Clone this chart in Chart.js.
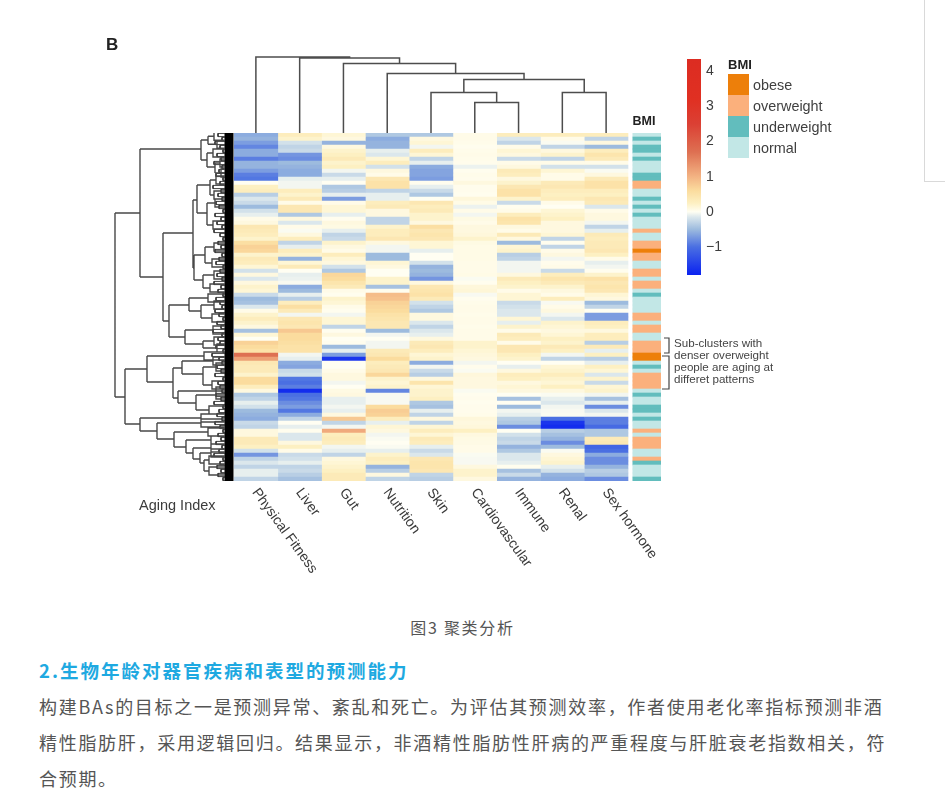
<!DOCTYPE html>
<html lang="zh">
<head>
<meta charset="utf-8">
<title>图3 聚类分析</title>
<script src="https://cdn.jsdelivr.net/npm/chart.js@4/dist/chart.umd.min.js"></script>
<style>
html,body{margin:0;padding:0;background:#fff;width:945px;height:806px;overflow:hidden}
canvas{position:absolute;filter:blur(.55px)}
.t{position:absolute;white-space:nowrap}
#cap{left:0;width:925px;top:615px;text-align:center;font:16px/24px "Noto Sans CJK SC",sans-serif;letter-spacing:1.7px;color:#555}
#head{left:39px;top:656px;font:bold 18.5px/28px "Noto Sans CJK SC",sans-serif;letter-spacing:2px;color:#1ea9e1}
.p{left:39px;font:18px/30px "Noto Sans CJK SC",sans-serif;letter-spacing:1.7px;color:#555}
#side{position:absolute;left:924px;top:-1px;width:30px;height:181px;border:1px solid #d9d9d9}
</style>
</head>
<body>
<canvas id="heat" width="945" height="600" style="left:0;top:0"></canvas>
<canvas id="topTree" width="394" height="83" style="left:234px;top:50px"></canvas>
<canvas id="leftTree" width="134" height="348" style="left:100px;top:133px"></canvas>
<canvas id="scale" width="50" height="216" style="left:687px;top:59px"></canvas>
<div id="side"></div>
<div class="t" id="cap">图3 聚类分析</div>
<div class="t" id="head">2.生物年龄对器官疾病和表型的预测能力</div>
<div class="t p" style="top:691px">构建BAs的目标之一是预测异常、紊乱和死亡。为评估其预测效率，作者使用老化率指标预测非酒</div>
<div class="t p" style="top:727px">精性脂肪肝，采用逻辑回归。结果显示，非酒精性脂肪性肝病的严重程度与肝脏衰老指数相关，符</div>
<div class="t p" style="top:763px">合预期。</div>
<script>
const columnLabels = ['Physical Fitness','Liver','Gut','Nutrition','Skin','Cardiovascular','Immune','Renal','Sex hormone'];
const physicalFitness = [-.6,-.55,-.7,-.85,-.6,-.6,-.9,-.55,-.55,-.7, -.9,-.95,0,.25,.3,-.35,-.15,-.25,-.5,-.2, -.1,.05,.1,.4,.35,.3,.2,.55,.7,.65, .2,.35,.3,.15,-.2,.1,-.15,.1,.2,.15, -.25,-.5,-.45,-.15,.05,.2,.3,.2,.1,-.45, .15,0,.7,.6,.5,1.7,1.2,.4,.35,.35, .2,.6,.6,.3,.1,-.4,-.3,-.1,-.2,-.5, -.55,-.6,-.25,-.3,.1,.1,.35,.35,.25,-.2, -.75,-.3,-.15,-.3,-.1,-.1,-.3];
const liver = [.3,.2,-.2,-.3,-.25,-.75,-.8,-.5,-.55,-.6, -.6,-.1,-.05,-.05,.3,.2,.35,.05,.4,.4, -.4,.1,-.15,.05,-.02,.1,.3,-.3,-.1,.3, .2,-.55,.15,.35,0,-.1,-.08,-.03,-.6,-.5, -.1,-.35,.3,.55,.35,-.05,.4,.45,.4,.8, .6,.6,.55,.5,.5,-.05,-.1,-.6,-.65,-.25, -.2,-.95,-1,-.9,-1.7,-1,-.95,-.8,-.7,-.95, -.6,-.3,0,-.1,.02,-.15,-.15,.1,.25,.05, -.25,-.2,-.1,-.3,-.25,-.35,-.45];
const gut = [.15,.1,-.55,.1,.2,.25,.35,.2,.25,-.05, -.25,-.1,0,-.4,-.35,-.1,-.7,.05,.15,.15, -.1,.02,.1,.08,-.1,-.3,-.25,.2,.1,.05, .3,.15,.1,-.2,-.4,.65,.6,.45,.35,.05, .02,.2,.15,.05,.02,-.05,.15,.15,-.3,.02, .1,0,.02,-.5,-.1,-.7,-1.6,0,0,.05, .1,.1,-.05,0,.08,.1,-.1,-.1,-.05,-.1, .1,.8,-.3,-.05,1.1,.3,.35,.3,-.05,-.1, -.3,.1,.15,.2,.25,.35,.35];
const nutrition = [-.4,-.6,-.55,-.55,-.1,-.15,.15,.3,-.2,.1, .05,.4,.5,.5,-.3,-.1,-.1,.3,.35,.1, .1,-.3,-.3,.2,.3,.3,.4,.1,-.05,-.05, -.5,-.5,.15,.1,0,0,.2,.2,-.45,.02, .9,.85,.7,.65,.6,.5,.45,.4,.4,-.5, -.05,0,-.05,-.05,.35,.4,.6,.3,.35,.4, .65,.2,.15,.2,-.85,-.03,-.03,-.03,.6,.75, .7,.3,-.1,.15,.1,-.05,-.02,0,-.02,-.1, .2,.3,.25,-.55,-.35,.1,-.3];
const skin = [-.4,.1,.15,-.05,.3,.15,-.3,-.1,-.6,-.65, -.65,-.7,.02,-.1,-.25,-.4,0,.4,.3,.35, .2,.2,.1,.55,.4,.45,.4,.15,.15,-.1, 0,0,-.2,-.55,-.5,-.55,-.75,.1,.4,.45, .5,.35,-.2,-.3,-.4,.1,.1,-.15,-.3,-.15, -.1,.1,.35,.4,.3,.15,.2,-.6,-.05,-.25, -.35,.1,.45,.15,.2,.2,.25,-.4,-.45,-.1, -.3,.1,-.3,.15,.3,.15,.35,.3,-.1,-.25, -.15,.4,.45,.45,.4,-.3,-.35];
const cardiovascular = [.05,.05,.04,.02,.04,.05,.04,.03,-.08,.02, .04,.03,.1,.03,.03,.02,.12,.06,-.08,.05, -.05,.08,.05,.1,.1,.12,.2,.08,.06,.06, .06,.06,.05,.05,.05,.06,-.02,.02,.12,.14, -.03,.02,.04,.05,.05,.04,.05,.05,.04,.05, .05,.05,.2,.2,.15,.12,.1,-.05,.03,-.02, .12,.1,.1,.1,-.02,.02,.03,.02,.03,.03, .04,.12,.1,.12,.25,.1,.08,.07,.05,.05, -.02,-.03,-.03,.1,.2,.2,.1];
const immune = [.3,-.15,-.3,.05,.15,.1,-.25,.05,.1,.35, .3,.1,.2,.4,.5,.5,.2,-.25,.02,.05, .3,.5,.45,.1,.05,.35,.1,-.5,.15,.2, -.35,-.3,-.05,-.05,-.05,.1,.35,.25,.2,.05, .15,.15,-.25,-.2,-.15,-.15,.15,-.1,.2,.05, .35,.3,.05,.4,.4,.25,.2,0,-.1,.1, .3,.25,.1,.15,.1,0,-.45,0,-.5,-.05, -.1,-.35,-.4,-.8,0,-.2,-.3,-.25,-.55,-.4, -.15,-.15,-.1,.02,-.45,-.25,-.55];
const renal = [.3,.05,-.02,-.3,.1,.2,-.3,.05,-.2,.15, .05,.05,.35,.4,.3,.25,.3,.05,0,.15, .2,.25,.1,.1,.1,.15,-.3,.02,-.3,.05, .1,-.05,.03,.05,-.25,.3,.45,.35,.2,.1, .05,.3,-.03,.05,.1,-.05,-.15,.2,.15,.1, .15,.25,.2,.35,.25,-.05,-.3,0,.15,.2, .3,.2,.15,.25,.1,-.02,-.1,-.15,-.05,-.03, -.02,-1,-1.6,-1.7,-.35,-.45,-.55,-.8,-.5,-.02, .1,.15,.2,-.1,-.2,-.55,-.6];
const sexHormone = [.3,-.3,.1,-.5,.3,.45,.35,.05,-.2,-.02, .1,.35,.5,.5,.3,.25,.4,.35,-.15,.05, .1,.1,-.05,-.3,-.1,.35,.3,.35,.35,.4, .25,.05,-.1,-.05,.02,.2,.5,.4,.45,.4, .15,.1,-.5,-.3,0,-.7,-.7,.3,.25,.1, .3,.3,-.35,.35,-.1,.25,-.35,-.1,.25,.15, -.15,.2,-.25,.15,.2,-.05,-.45,-.1,-.8,-.15, -.05,-.9,-.9,-1.05,-.4,-.4,.35,.4,-1.1,-1, -.6,-.8,-.8,-.55,-.35,-.4,-.8];
const bmiGroups = 'n,u,n,u,u,n,u,n,n,n,u,u,o,o,n,n,u,n,u,n,u,n,n,n,o,n,n,o,o,x,o,o,n,n,o,o,n,o,o,n,u,n,n,n,n,o,o,n,o,o,n,n,o,o,o,x,x,n,u,n,o,o,o,o,n,u,n,n,u,u,n,u,n,n,o,n,o,o,o,n,n,o,u,n,n,n,u'.split(',');
const bmiColors = {x:'#ed7f0a', o:'#fbb07c', u:'#62bdbd', n:'#c2e7e6'};
const bmiLabels = [['x','obese'],['o','overweight'],['u','underweight'],['n','normal']];
const colorStops = [[-1.8,'#0a22f0'],[-1,'#4a6fe2'],[-.5,'#9dbbde'],[-.15,'#dbe7ec'],[0,'#fffef2'],[.25,'#fdf0c2'],[.6,'#fbdc9e'],[1,'#f3b383'],[1.7,'#de7052'],[2.5,'#db4034'],[3.2,'#e03022'],[4.35,'#dc2c22']];
const scaleTicks = [4,3,2,1,0,-1];
const noteLines = ['Sub-clusters with','denser overweight','people are aging at','differet patterns'];
// dendrograms: [height, left, right]; a number is a leaf (column index)
const columnTree = [76,0,[75,1,[69.5,2,[59.5,3,[53.5,[40.5,4,[30.5,5,6]],[40.5,7,8]]]]]];
// row dendrogram: [height, rowPosition, ...children]
const rowTree = [119,43,
  [94,20,
    [33,4,[26,1.75,[20,.8],[17,2.8]],[27,6.75,[21,5],[19,8.5,[14,7.5],[13,10]]]],
    [71,36,
      [41,25,
        [37,16.75,[24,13,[18,11.75],[20,15.5]],[27,20,[19,17.5],[21,23]]],
        [40,33.75,[29,30.5,[20,28.5],[22,32.5]],[31,36.75,[20,35.5],[24,38.75]]]],
      [65,47,
        [45,43,[26,41.25],[33,44.5,[20,43],[22,46.25]]],
        [49,51,[21,49.25],[31,52.75,[20,52],[17,53.75]]]]]],
  [109,66,
    [87,59,[30,55.75],[61,62.25,
      [52,58.75,[21,57],[31,60.25,[18,58.5],[22,63]]],
      [56,66.25,[18,64.5],[38,67.5,[18,65.5],[25,69.25]]]]],
    [94,72.75,[33,71.25],[77,74.5,[33,72.5],[60,76.5,[26,74.75],[48,78.5,[23,76.75],[41,80,[23,78.75],[34,81.5,[23,80],[30,82.5,[25,81.75],[25,84.5]]]]]]]]]];
const rowTwigs = [16,12,19,14,11,17,13,20,12,15,18,11,14,21,13,16,12,18,15,11,19,13,17,12,20,14,11,16,13,19,12,15,18,11,14,17,12,20,13,16,11,18,14,12,19,15,11,17,13,21,12,16,14,18,11,22,15,12,17,13,19,11,16,14,12,18,13,20,11,15,17,12,19,14,11,16,13,18,12,15,20,11,14,17,13,16,11];
const bandDepth = 9;

const hex = c => [1,3,5].map(i => parseInt(c.substr(i,2),16));
function colorOf(v){
  for(let i=1;i<colorStops.length;i++){
    if(v<=colorStops[i][0]){
      const [a,ca]=colorStops[i-1],[b,cb]=colorStops[i];
      const t=Math.max(0,(v-a)/(b-a)),A=hex(ca),B=hex(cb);
      return `rgb(${A.map((x,k)=>Math.round(x+(B[k]-x)*t)).join(',')})`;
    }
  }
  return colorStops[colorStops.length-1][1];
}
Chart.defaults.animation=false;
Chart.defaults.responsive=false;
Chart.defaults.font.family='"Liberation Sans",Arial,sans-serif';
Chart.defaults.plugins.legend.display=false;
Chart.defaults.plugins.tooltip.enabled=false;

const columns=[physicalFitness,liver,gut,nutrition,skin,cardiovascular,immune,renal,sexHormone];
const rowIds=physicalFitness.map((_,i)=>i);
const bmiStart=9.11, xEnd=9.754;
const datasets=columns.map((vals,j)=>({label:columnLabels[j],data:vals.map(()=>[j,j+1]),backgroundColor:vals.map(colorOf),values:vals}));
datasets.push({label:'BMI',data:bmiGroups.map(()=>[bmiStart,xEnd]),backgroundColor:bmiGroups.map(g=>bmiColors[g])});

const annotate={id:'annotate',afterDraw(chart){
  const {ctx,scales:{x,y}}=chart;
  ctx.save();
  // column labels
  ctx.fillStyle='#3a3a3a';ctx.font='14px "Liberation Sans"';ctx.textAlign='left';ctx.textBaseline='middle';
  columnLabels.forEach((l,j)=>{
    ctx.save();ctx.translate(x.getPixelForValue(j+.5)-1,y.bottom+9);ctx.rotate(54*Math.PI/180);ctx.fillText(l,0,0);ctx.restore();
  });
  ctx.font='14.5px "Liberation Sans"';ctx.fillStyle='#3c3c3c';
  ctx.fillText('Aging Index',139,506);
  ctx.font='bold 17px "Liberation Sans"';ctx.fillStyle='#222';ctx.fillText('B',106,45);
  ctx.font='bold 12.5px "Liberation Sans"';ctx.fillText('BMI',632.5,122);
  // BMI key
  ctx.font='bold 13px "Liberation Sans"';ctx.fillStyle='#222';ctx.fillText('BMI',728,65);
  ctx.font='14.4px "Liberation Sans"';
  bmiLabels.forEach(([k,l],i)=>{
    ctx.fillStyle=bmiColors[k];ctx.fillRect(728,74+i*21,21,21);
    ctx.fillStyle='#3f3f3f';ctx.fillText(l,753,86+i*21);
  });
  // cluster brackets & note
  ctx.strokeStyle='#444';ctx.lineWidth=1.2;
  const b=(x0,y0,y1)=>{ctx.beginPath();ctx.moveTo(x0,y0);ctx.lineTo(669,y0);ctx.lineTo(669,y1);ctx.lineTo(x0,y1);ctx.stroke();};
  b(664,338,353);b(662,356,389);
  ctx.font='11.6px "Liberation Sans"';ctx.fillStyle='#444';
  noteLines.forEach((l,i)=>ctx.fillText(l,674,344+i*11.8));
  ctx.restore();
}};

new Chart(document.getElementById('heat'),{
  type:'bar',
  data:{labels:rowIds,datasets},
  plugins:[annotate],
  options:{
    indexAxis:'y',
    layout:{padding:{left:234,top:133,right:284,bottom:119}},
    datasets:{bar:{grouped:false,barPercentage:1,categoryPercentage:1,borderWidth:0}},
    scales:{
      x:{type:'linear',min:0,max:xEnd,display:false},
      y:{type:'category',display:false}
    }
  }
});

function colSegments(n,out){
  if(typeof n==='number')return {x:n+.5,h:0};
  const a=colSegments(n[1],out),b=colSegments(n[2],out),h=n[0];
  out.push({x:a.x,y:a.h},{x:a.x,y:h},{x:b.x,y:h},{x:b.x,y:b.h},{x:null,y:null});
  return {x:(a.x+b.x)/2,h};
}
const colPts=[];colSegments(columnTree,colPts);
new Chart(document.getElementById('topTree'),{
  type:'scatter',
  data:{datasets:[{data:colPts,showLine:true,pointRadius:0,borderColor:'#4d4d4d',borderWidth:1.5,clip:false,spanGaps:false}]},
  options:{scales:{x:{type:'linear',min:0,max:9,display:false},y:{type:'linear',min:0,max:83,display:false}}}
});

function rowSegments(n,out,parentD){
  const [d,r,...kids]=n;
  if(parentD!==null)out.push({x:parentD,y:r},{x:d,y:r},{x:null,y:null});
  if(kids.length){
    const rs=kids.map(k=>k[1]);
    out.push({x:d,y:Math.min(...rs)},{x:d,y:Math.max(...rs)},{x:null,y:null});
    kids.forEach(k=>rowSegments(k,out,d));
  }else{
    out.push({x:bandDepth,y:r-1},{x:d,y:r-1},{x:d,y:r+1},{x:bandDepth,y:r+1},{x:null,y:null});
  }
}
const rowPts=[];rowSegments(rowTree,rowPts,null);
const twigPts=[];
rowTwigs.forEach((d,i)=>twigPts.push({x:bandDepth,y:i+.1},{x:d,y:i+.1},{x:d,y:i+.9},{x:bandDepth,y:i+.9},{x:null,y:null}));
new Chart(document.getElementById('leftTree'),{
  type:'scatter',
  data:{datasets:[
    {data:rowPts,showLine:true,pointRadius:0,borderColor:'#484848',borderWidth:1.4,clip:false,spanGaps:false},
    {data:twigPts,showLine:true,pointRadius:0,borderColor:'#2a2a2a',borderWidth:.9,clip:false,spanGaps:false},
    {data:[{x:bandDepth/2+.5,y:0},{x:bandDepth/2+.5,y:rowIds.length}],showLine:true,pointRadius:0,borderColor:'#000',borderWidth:bandDepth,clip:false}
  ]},
  options:{scales:{
    x:{type:'linear',reverse:true,min:0,max:134,display:false},
    y:{type:'linear',reverse:true,min:0,max:rowIds.length,display:false}}}
});

const scaleMin=colorStops[0][0],scaleMax=colorStops[colorStops.length-1][0];
new Chart(document.getElementById('scale'),{
  type:'bar',
  data:{labels:['value'],datasets:[{data:[[scaleMin,scaleMax]],barPercentage:1,categoryPercentage:1,borderSkipped:false,
    backgroundColor(c){
      const {chart}=c;const ys=chart.scales.y;
      if(!chart.chartArea||!ys)return colorStops[0][1];
      const g=chart.ctx.createLinearGradient(0,ys.getPixelForValue(scaleMin),0,ys.getPixelForValue(scaleMax));
      colorStops.forEach(([v,col])=>g.addColorStop((v-scaleMin)/(scaleMax-scaleMin),col));
      return g;
    }}]},
  options:{scales:{
    x:{display:false},
    y:{type:'linear',position:'right',min:scaleMin,max:scaleMax,
      grid:{display:false,drawTicks:false},border:{display:false},
      afterBuildTicks(s){s.ticks=scaleTicks.map(value=>({value}));},
      afterFit(s){s.width=36;s.paddingTop=0;s.paddingBottom=0;},
      ticks:{padding:5,color:'#3c3c3c',font:{size:14},callback:v=>v<0?'\u2212'+Math.abs(v):String(v)}}
  }}
});
</script>
</body>
</html>
